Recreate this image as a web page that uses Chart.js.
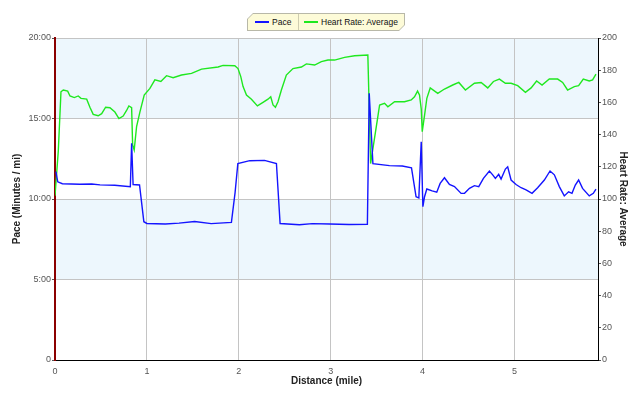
<!DOCTYPE html>
<html>
<head>
<meta charset="utf-8">
<script src="https://cdn.jsdelivr.net/npm/chart.js@4/dist/chart.umd.min.js"></script>
<style>
  html, body { margin: 0; padding: 0; background: #fff; }
  #wrap { position: relative; width: 640px; height: 397px; }
  #legend {
    position: absolute; left: 247px; top: 13px; width: 158px; height: 18px;
    background: #b8b8a8;
    clip-path: polygon(6px 0, 100% 0, 100% calc(100% - 6px), calc(100% - 6px) 100%, 0 100%, 0 6px);
  }
  #legend .inner {
    position: absolute; left: 1px; top: 1px; right: 1px; bottom: 1px;
    background: #fdfbd8;
    clip-path: polygon(5px 0, 100% 0, 100% calc(100% - 5px), calc(100% - 5px) 100%, 0 100%, 0 5px);
    font: 8.5px "Liberation Sans", Arial, sans-serif; color: #111;
  }
  #legend .item { position: absolute; top: 3px; white-space: nowrap; }
  #legend .sw { display: inline-block; width: 14px; height: 2px; vertical-align: middle; margin-right: 3px; position: relative; top: -1px; }
  #legend .sep { position: absolute; left: 50px; top: 0; bottom: 0; width: 1px; background: #cfcdb0; }
</style>
</head>
<body>
<div id="wrap">
  <canvas id="chart" width="640" height="397"></canvas>
  <div id="legend"><div class="inner">
    <div class="item" style="left:7px"><span class="sw" style="background:#1414ff"></span>Pace</div>
    <div class="sep"></div>
    <div class="item" style="left:56px"><span class="sw" style="background:#1fe81f"></span>Heart Rate: Average</div>
  </div></div>
</div>
<script>
// distance (mile) / pace (minutes per mile)
let pace_dist = [0.01, 0.03, 0.08, 0.27, 0.4, 0.49, 0.65, 0.82, 0.834, 0.85, 0.92, 0.967, 1.0, 1.2, 1.35, 1.52, 1.7, 1.92,
    1.96, 1.99, 2.12, 2.28, 2.41, 2.45, 2.66, 2.8, 2.99, 3.2, 3.40, 3.42, 3.46, 3.64, 3.78, 3.88, 3.93, 3.96, 3.986,
    4.004, 4.022, 4.047, 4.105, 4.155, 4.192, 4.239, 4.293, 4.348, 4.42, 4.457, 4.511, 4.565, 4.612, 4.663, 4.728,
    4.764, 4.793, 4.829, 4.855, 4.902, 4.927, 4.964, 5.018, 5.073, 5.127, 5.192, 5.253, 5.326, 5.388, 5.435, 5.489,
    5.543, 5.59, 5.627, 5.663, 5.699, 5.742, 5.815, 5.859, 5.888];
let pace_min = [11.7, 11.07, 10.95, 10.92, 10.93, 10.88, 10.85, 10.76, 13.46, 10.9, 10.87, 8.59, 8.48, 8.45, 8.5, 8.6, 8.47, 8.55,
    10.4, 12.2, 12.38, 12.4, 12.2, 8.48, 8.4, 8.47, 8.45, 8.42, 8.43, 16.56, 12.2, 12.07, 12.05, 11.93, 10.14, 10.06, 13.56,
    9.52, 10.14, 10.62, 10.5, 10.42, 10.97, 11.32, 10.9, 10.77, 10.35, 10.35, 10.66, 10.83, 10.77, 11.28, 11.74,
    11.5, 11.28, 11.53, 11.24, 11.86, 12.0, 11.18, 10.9, 10.7, 10.56, 10.35, 10.7, 11.18, 11.74, 11.5, 10.77,
    10.19, 10.45, 10.35, 10.87, 11.18, 10.66, 10.19, 10.35, 10.62];

// distance (mile) / heart rate (bpm)
let hr_dist = [0.0, 0.036, 0.065, 0.09, 0.138, 0.163, 0.21, 0.253, 0.283, 0.345, 0.38, 0.416, 0.47, 0.508, 0.551, 0.598,
    0.652, 0.696, 0.742, 0.779, 0.804, 0.834, 0.845, 0.862, 0.888, 0.924, 0.971, 1.033, 1.087, 1.152, 1.214, 1.286,
    1.377, 1.486, 1.595, 1.775, 1.829, 1.957, 1.992, 2.022, 2.047, 2.084, 2.138, 2.203, 2.264, 2.318, 2.348, 2.373,
    2.399, 2.427, 2.464, 2.518, 2.59, 2.682, 2.736, 2.826, 2.899, 2.971, 3.043, 3.152, 3.261, 3.405, 3.435, 3.508,
    3.533, 3.587, 3.623, 3.696, 3.804, 3.877, 3.913, 3.946, 3.967, 3.986, 3.997, 4.022, 4.047, 4.084, 4.166, 4.239,
    4.329, 4.395, 4.467, 4.565, 4.638, 4.71, 4.772, 4.837, 4.902, 4.964, 5.036, 5.12, 5.182, 5.242, 5.301, 5.38,
    5.471, 5.525, 5.579, 5.652, 5.699, 5.75, 5.815, 5.851, 5.888];
let hr_bpm = [102, 130, 166.6, 167.7, 167, 164, 163, 164, 162.5, 162, 157, 152.6, 151.7, 153, 157, 156.7,
    154, 150, 151.5, 155, 157.8, 156.7, 133.5, 130.4, 145, 154, 164.6, 168.7, 174, 173, 176.6, 175.3,
    177, 178, 180.7, 182, 183, 182.8, 181, 176, 169.8, 164.6, 162, 157.8, 160, 162, 163.5, 158.4,
    157, 160.4, 167.7, 177, 181, 182, 183.9, 183.2, 185.3, 186.3, 186.3, 188, 189, 189.4, 122, 149,
    158.4, 159.4, 157.3, 160.4, 160.4, 161.5, 163.5, 167, 164.6, 156, 141.8, 152, 162.5, 169, 165.6, 168.3,
    170.8, 172.4, 167.7, 171.9, 172.4, 169, 173, 174.5, 171.9, 171.9, 170.4, 166.3, 169, 173.3, 170.8, 174.5,
    174.5, 172.4, 167.7, 169.8, 170.4, 174.5, 173.3, 174, 177.5];

let dist_max = 5.91;
let pace_ticks = [0, 5, 10, 15, 20];

function to_points(xs, ys) {
    let pts = [];
    for (let i = 0; i < xs.length; i++) {
        pts.push({x: xs[i], y: ys[i]});
    }
    return pts;
}

// light blue bands every other 5 minutes
const bands = {
    id: 'bands',
    beforeDraw(chart) {
        let ctx = chart.ctx;
        let y = chart.scales.y;
        let area = chart.chartArea;
        ctx.save();
        ctx.fillStyle = '#edf7fd';
        for (let i = 0; i < pace_ticks.length - 1; i++) {
            if (i % 2 == 0) continue;
            let top = y.getPixelForValue(pace_ticks[i + 1]);
            let bot = y.getPixelForValue(pace_ticks[i]);
            ctx.fillRect(area.left, top, area.right - area.left, bot - top);
        }
        ctx.restore();
    }
};

Chart.defaults.font.family = '"Liberation Sans", Arial, sans-serif';
Chart.defaults.font.size = 9;
Chart.defaults.color = '#555';

let ctx = document.getElementById("chart").getContext("2d");
let chart = new Chart(ctx, {
    type: 'line',
    data: {
        datasets: [{
            label: "Pace",
            data: to_points(pace_dist, pace_min),
            yAxisID: 'y',
            borderColor: 'rgb(20, 20, 255)',
            borderWidth: 1.4,
            pointRadius: 0,
            order: 1
        }, {
            label: "Heart Rate: Average",
            data: to_points(hr_dist, hr_bpm),
            yAxisID: 'y1',
            borderColor: 'rgb(31, 232, 31)',
            borderWidth: 1.4,
            pointRadius: 0,
            order: 2
        }]
    },
    options: {
        responsive: false,
        animation: false,
        layout: { padding: { top: 38, left: 0, right: 0, bottom: 0 } },
        plugins: {
            legend: { display: false },
            tooltip: { enabled: false }
        },
        scales: {
            x: {
                type: 'linear',
                min: 0,
                max: dist_max,
                afterFit(s) { s.height = 37; },
                ticks: { stepSize: 1, includeBounds: false, padding: 6, maxRotation: 0 },
                grid: { color: '#c4c4c4', drawTicks: false },
                border: { color: '#000', width: 1 },
                title: { display: true, text: 'Distance (mile)', color: '#222',
                         font: { size: 10, weight: 'bold' }, padding: { top: 1, bottom: 10 } }
            },
            y: {
                position: 'left',
                min: 0,
                max: 20,
                afterFit(s) { s.width = 55; },
                ticks: {
                    stepSize: 5,
                    padding: 1,
                    callback: function (v) { return v == 0 ? '0' : v + ':00'; }
                },
                grid: { color: '#c4c4c4', tickLength: 3, tickColor: '#555' },
                border: { color: '#8b0000', width: 2 },
                title: { display: true, text: 'Pace (Minutes / mi)', color: '#222',
                         font: { size: 10, weight: 'bold' }, padding: { top: 11, bottom: 0 } }
            },
            y1: {
                position: 'right',
                min: 0,
                max: 200,
                afterFit(s) { s.width = 42; },
                ticks: { stepSize: 20, padding: 1 },
                grid: { drawOnChartArea: false, tickLength: 3, tickColor: '#555' },
                border: { color: '#000', width: 1 },
                title: { display: true, text: 'Heart Rate: Average', color: '#222',
                         font: { size: 10, weight: 'bold' }, padding: { top: 11, bottom: 0 } }
            }
        }
    },
    plugins: [bands]
});
</script>
</body>
</html>
